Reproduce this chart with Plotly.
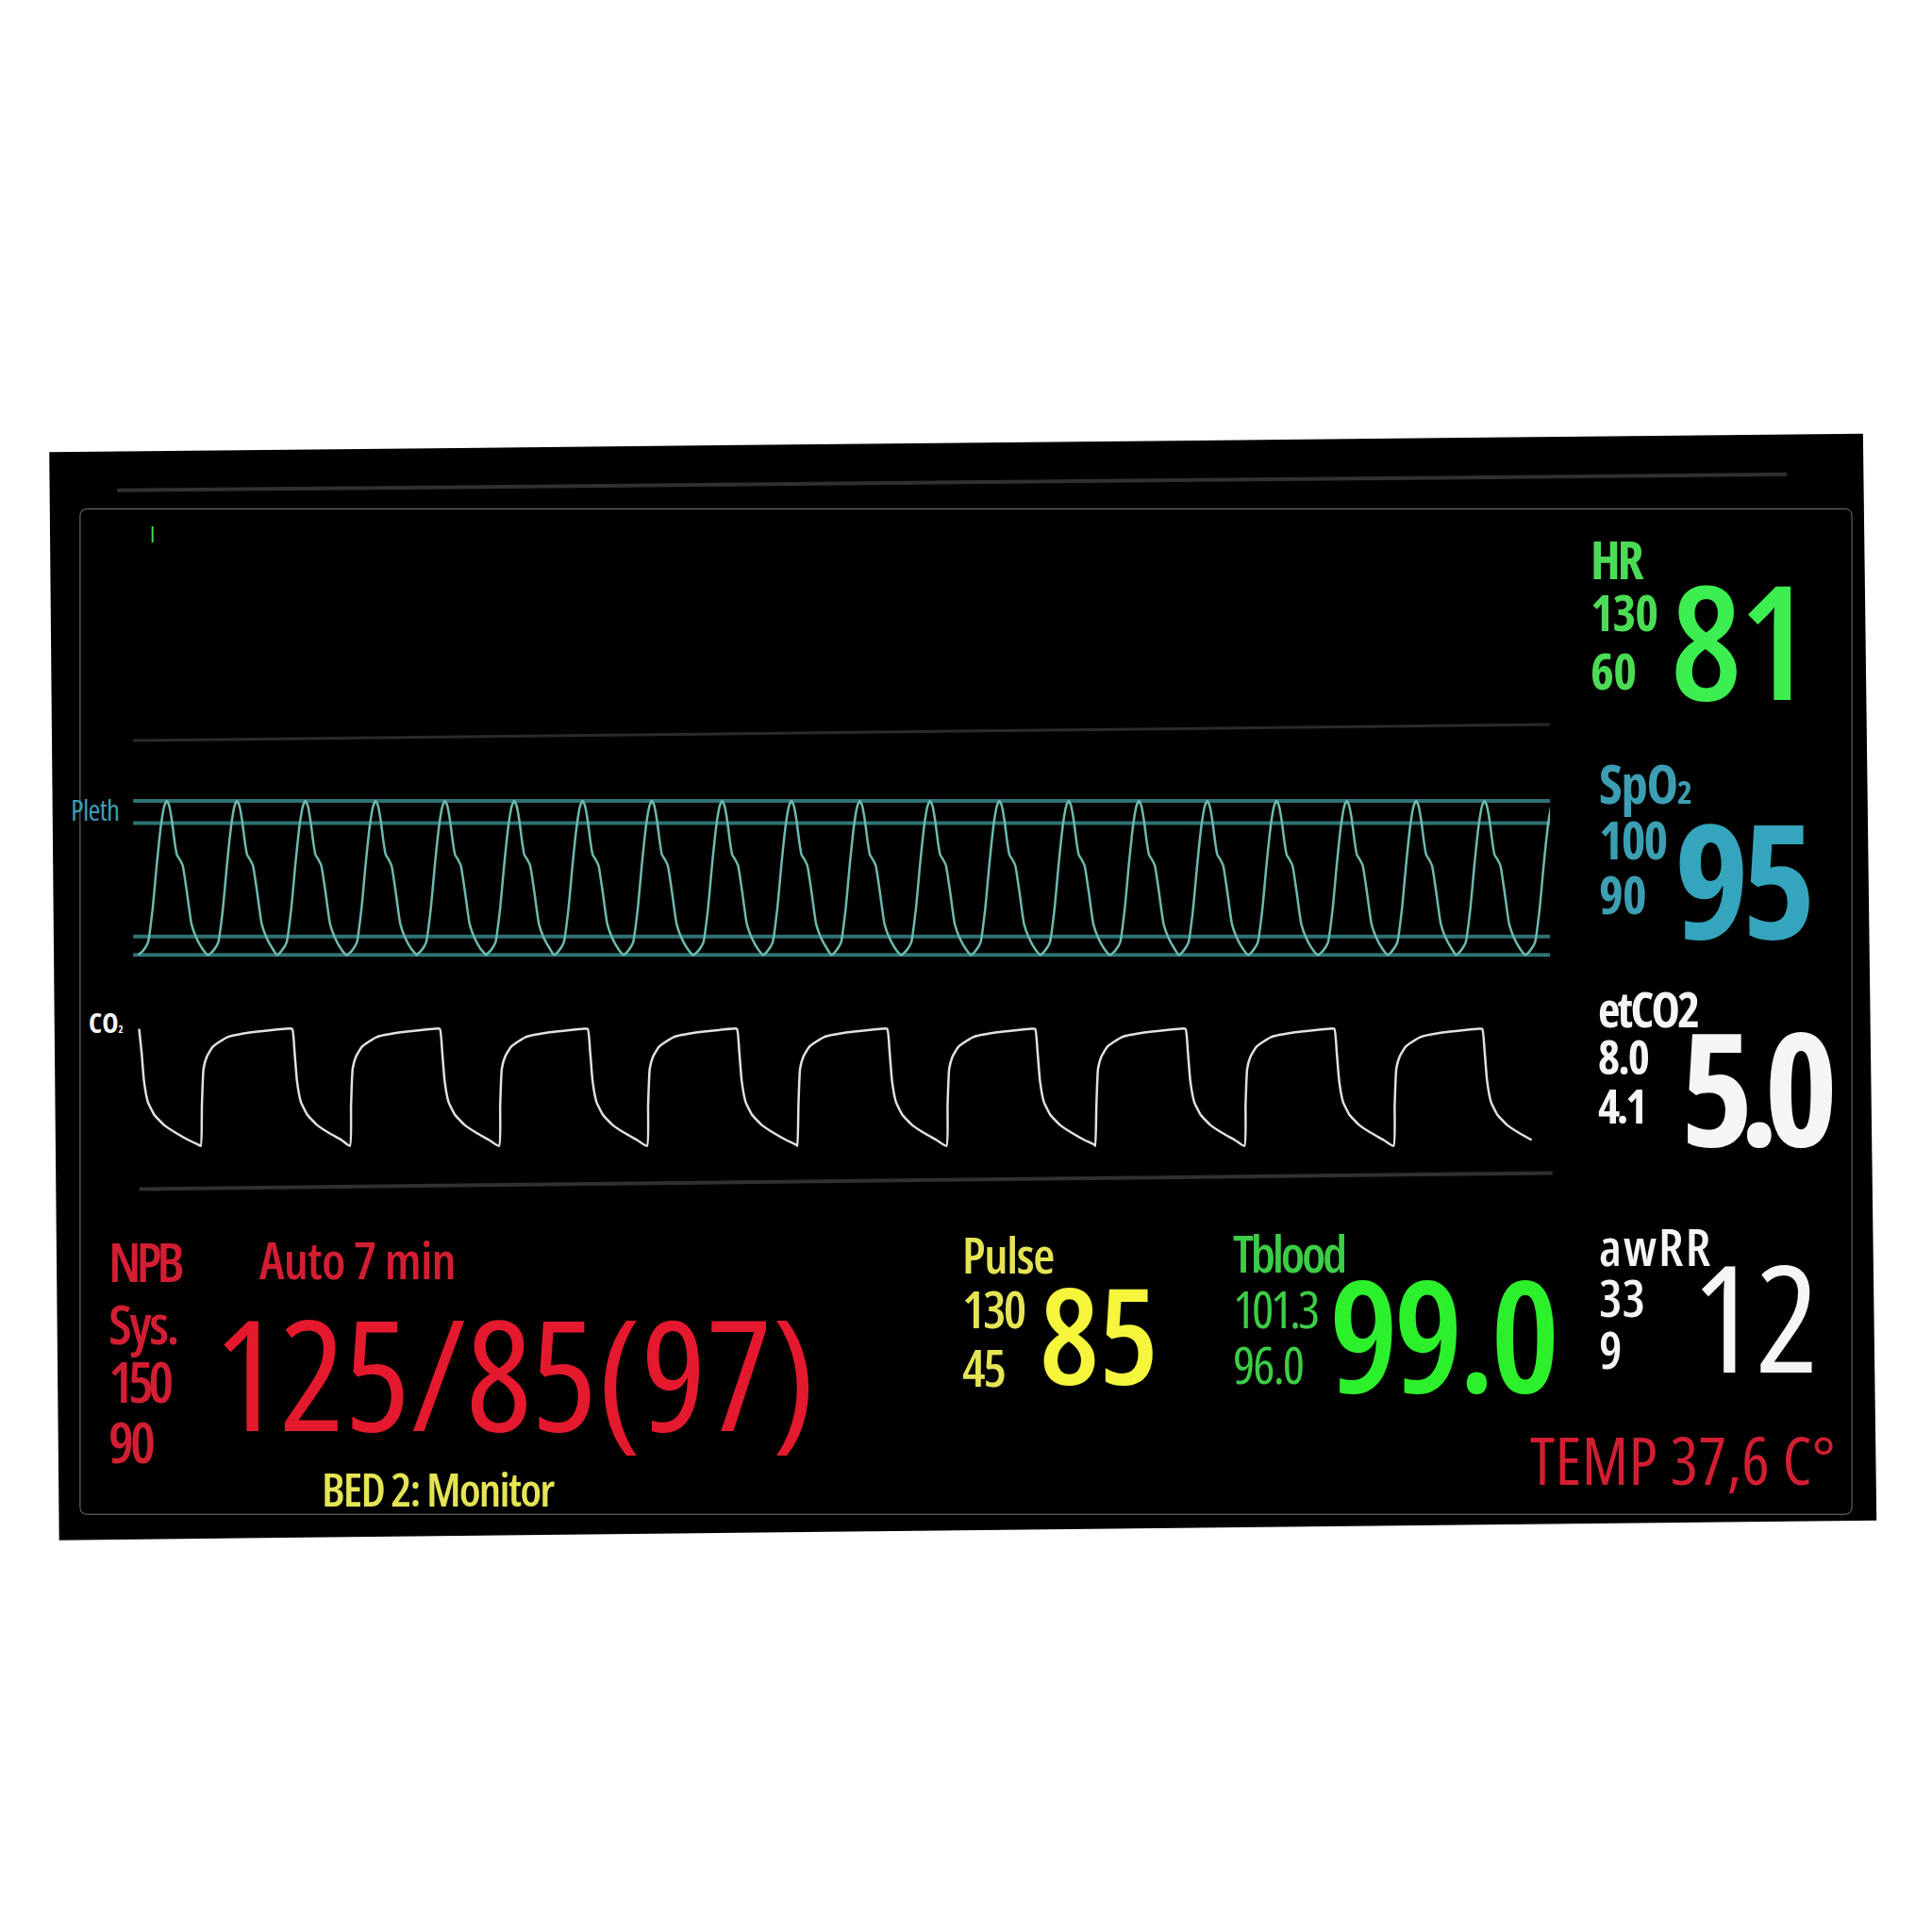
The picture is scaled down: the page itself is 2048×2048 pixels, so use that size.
import plotly.graph_objects as go

W = H = 2048
S = 2048 / 1568  # positions measured on the 1568 preview


def px(x):
    return x * S / W


def py(y):
    return 1 - y * S / H


# ---------------- data ----------------
# Pleth: peak times (s) and one-beat template (offset s, normalised amplitude)
pleth_peak_times = [0.36, 1.11, 1.84, 2.59, 3.33, 4.07, 4.80, 5.54, 6.29, 7.03,
                    7.76, 8.51, 9.25, 9.99, 10.74, 11.47, 12.21, 12.96, 13.70,
                    14.43, 15.17]
pleth_beat_offsets = [-0.303, -0.250, -0.201, -0.151, -0.105, -0.060, -0.025,
                      0.0, 0.025, 0.055, 0.085, 0.108, 0.138, 0.170, 0.214,
                      0.264, 0.316, 0.380, 0.437]
pleth_beat_values = [0.0, 0.03, 0.08, 0.30, 0.60, 0.85, 0.97,
                     1.0, 0.97, 0.87, 0.73, 0.65, 0.62, 0.58, 0.41,
                     0.20, 0.11, 0.04, 0.0]
pleth_ref_levels = [1.0, 0.856, 0.12, 0.0]
pleth_t_max = 15.13

# CO2 capnogram: rise/fall times (s) and templates
co2_rise_times = [2.19, 7.20, 12.21, 17.18, 22.23, 27.24, 32.24, 37.25, 42.26]
co2_fall_times = [0.12, 5.26, 10.22, 15.19, 20.20, 25.25, 30.22, 35.27, 40.27, 45.24]
co2_rise_offsets = [0.0, 0.04, 0.095, 0.20, 0.42, 0.90, 1.70, 2.85]
co2_rise_values = [0.0, 0.35, 0.66, 0.76, 0.85, 0.93, 0.97, 1.0]
co2_fall_offsets = [0.0, 0.083, 0.166, 0.29, 0.50, 0.83, 1.24, 1.66, 1.99]
co2_fall_values = [1.0, 0.80, 0.55, 0.38, 0.27, 0.18, 0.11, 0.05, 0.01]
co2_end_time = 47.19
co2_t_max = 47.27

# ---------------- build series ----------------
pleth_x, pleth_y = [], []
for i, tp in enumerate(pleth_peak_times):
    limit = (pleth_peak_times[i + 1] + pleth_beat_offsets[0]) if i + 1 < len(pleth_peak_times) else 1e9
    for o, v in zip(pleth_beat_offsets, pleth_beat_values):
        t = tp + o
        if t < limit:
            pleth_x.append(t)
            pleth_y.append(v)

events = sorted([(t, "r") for t in co2_rise_times] + [(t, "f") for t in co2_fall_times])
co2_x, co2_y = [], []
for i, (t0, kind) in enumerate(events):
    t_next = events[i + 1][0] if i + 1 < len(events) else co2_end_time + 1e-6
    offs, vals = (co2_rise_offsets, co2_rise_values) if kind == "r" else (co2_fall_offsets, co2_fall_values)
    for o, v in zip(offs, vals):
        if t0 + o < t_next:
            co2_x.append(t0 + o)
            co2_y.append(v)

# ---------------- figure ----------------
fig = go.Figure()

pad = 0.15
p_y0, p_y1 = 775, 650     # value 0 / value 1 rows (preview px)
c_y0, c_y1 = 930, 835
fig.update_layout(
    xaxis=dict(domain=[px(108), px(1258)], range=[0, pleth_t_max], visible=False, fixedrange=True),
    yaxis=dict(domain=[py(p_y0 + pad * (p_y0 - p_y1)), py(p_y1 - pad * (p_y0 - p_y1))],
               range=[-pad, 1 + pad], visible=False, fixedrange=True),
    xaxis2=dict(domain=[px(110), px(1252)], range=[0, co2_t_max], visible=False, anchor="y2"),
    yaxis2=dict(domain=[py(c_y0 + pad * (c_y0 - c_y1)), py(c_y1 - pad * (c_y0 - c_y1))],
                range=[-pad, 1 + pad], visible=False, anchor="x2"),
)

for lvl in pleth_ref_levels:
    fig.add_trace(go.Scatter(x=[0, pleth_t_max], y=[lvl, lvl], mode="lines",
                             line=dict(color="rgba(55,135,135,0.85)", width=4),
                             hoverinfo="skip", showlegend=False))

fig.add_trace(go.Scatter(x=pleth_x, y=pleth_y, mode="lines",
                         line=dict(color="rgb(110,185,175)", width=2.5, shape="spline", smoothing=0.5),
                         hoverinfo="skip", showlegend=False))

fig.add_trace(go.Scatter(x=co2_x, y=co2_y, mode="lines", xaxis="x2", yaxis="y2",
                         line=dict(color="rgb(225,225,225)", width=2.5, shape="spline", smoothing=0.5),
                         hoverinfo="skip", showlegend=False))

# ---------------- background shapes ----------------
def P(x, y):
    return f"{px(x):.5f},{py(y):.5f}"

shapes = []
shapes.append(dict(type="path", xref="paper", yref="paper", layer="below",
                   path=f"M{P(40,367)} L{P(1512,352)} L{P(1523,1234)} L{P(48,1250)} Z",
                   fillcolor="black", line=dict(width=0)))
x0, y0, x1, y1, r = 65, 413, 1503, 1229, 6
path = (f"M{P(x0+r,y0)} L{P(x1-r,y0)} Q{P(x1,y0)} {P(x1,y0+r)} L{P(x1,y1-r)} "
        f"Q{P(x1,y1)} {P(x1-r,y1)} L{P(x0+r,y1)} Q{P(x0,y1)} {P(x0,y1-r)} "
        f"L{P(x0,y0+r)} Q{P(x0,y0)} {P(x0+r,y0)} Z")
shapes.append(dict(type="path", xref="paper", yref="paper", layer="below", path=path,
                   fillcolor="black", line=dict(color="rgb(120,120,120)", width=1)))
for (xa, ya, xb, yb, w, c) in [(95, 398, 1450, 385, 4, "rgb(48,48,48)"),
                               (108, 601, 1258, 588, 3, "rgb(42,42,42)"),
                               (113, 965, 1260, 952, 4, "rgb(48,48,48)")]:
    shapes.append(dict(type="line", xref="paper", yref="paper", layer="below",
                       x0=px(xa), y0=py(ya), x1=px(xb), y1=py(yb),
                       line=dict(color=c, width=w)))
fig.update_layout(shapes=shapes)

# ---------------- texts ----------------
FONT = "Open Sans, Roboto Condensed, sans-serif"
GREEN = "rgb(75,220,85)"
GREEN2 = "rgb(60,238,80)"
TEAL = "rgb(60,158,178)"
TEAL2 = "rgb(52,165,188)"
WHITE = "rgb(245,245,245)"
RED = "rgb(210,30,50)"
RED2 = "rgb(228,25,45)"
YEL = "rgb(228,228,85)"
YEL2 = "rgb(245,245,60)"
TBG = "rgb(60,205,70)"
TBG2 = "rgb(45,240,45)"

labels = [
    # text, x_left, y_center, cap height, color, weight, letter spacing (preview px)
    ("HR", 1290, 455, 30, GREEN, 700, -2.5),
    ("130", 1290, 498, 29, GREEN, 700, -1),
    ("60", 1290, 545, 29, GREEN, 700, -0.5),
    ("81", 1355, 522, 92, GREEN2, 600, -2),
    ("SpO<span style='font-size:34px'>2</span>", 1297, 637, 31, TEAL, 700, -1),
    ("100", 1297, 682, 30, TEAL, 700, -1.5),
    ("90", 1297, 727, 30, TEAL, 700, -0.5),
    ("95", 1358, 716, 92, TEAL2, 700, -6),
    ("etCO2", 1296, 820, 28, WHITE, 700, -2),
    ("8.0", 1296, 858, 27, WHITE, 700, -1.5),
    ("4.1", 1296, 898, 27, WHITE, 700, -2.5),
    ("5.0", 1363, 885, 91, WHITE, 700, -12),
    ("awRR", 1297, 1012, 30, WHITE, 600, 1.5),
    ("33", 1297, 1054, 30, WHITE, 600, 0),
    ("9", 1297, 1096, 30, WHITE, 600, 0),
    ("12", 1373, 1071, 86, WHITE, 500, 0),
    ("TEMP 37,6 C°", 1241, 1186, 38, RED, 500, 0.3),
    ("Pulse", 780, 1019, 29, YEL, 600, -1),
    ("130", 780, 1063, 30, YEL, 600, -2),
    ("45", 780, 1110, 30, YEL, 600, -1.5),
    ("85", 843, 1085, 77, YEL2, 600, 0),
    ("Tblood", 1000, 1018, 30, TBG, 600, -2.5),
    ("101.3", 1000, 1063, 30, TBG, 500, -2.5),
    ("96.0", 1000, 1108, 30, TBG, 500, -1.5),
    ("99.0", 1078, 1085, 90, TBG2, 600, -4),
    ("NPB", 87, 1024, 32, RED, 600, -4),
    ("Auto 7 min", 210, 1023, 30, RED, 600, -0.6),
    ("Sys.", 87, 1075, 32, RED, 600, -2),
    ("150", 87, 1122, 33, RED, 600, -4.5),
    ("90", 87, 1171, 33, RED, 600, -3),
    ("125/85(97)", 173, 1117, 89, RED2, 500, 0),
    ("BED 2: Monitor", 260, 1209, 27, YEL, 600, -1.4),
    ("Pleth", 57, 658, 17, TEAL, 500, -0.5),
    ("CO<span style='font-size:11px'>2</span>", 71, 831, 16, WHITE, 700, 0),
    ("I", 121, 434, 13, GREEN, 500, 0),
]

annotations = []
for text, x, y, ch, color, wt, ls in labels:
    size = ch * S / 0.714
    yc = y - 0.031 * size / S
    t = (f"<span style='font-stretch:75%;font-weight:{wt};"
         f"letter-spacing:{ls * S:.1f}px'>{text}</span>")
    annotations.append(dict(x=px(x), y=py(yc), xref="paper", yref="paper", text=t,
                            showarrow=False, xanchor="left", yanchor="middle",
                            font=dict(family=FONT, size=size, color=color),
                            borderpad=0))
fig.update_layout(annotations=annotations)

fig.update_layout(width=W, height=H, margin=dict(l=0, r=0, t=0, b=0),
                  paper_bgcolor="white", plot_bgcolor="rgba(0,0,0,0)",
                  showlegend=False)

fig.write_html("out.html", config={"displayModeBar": False})
